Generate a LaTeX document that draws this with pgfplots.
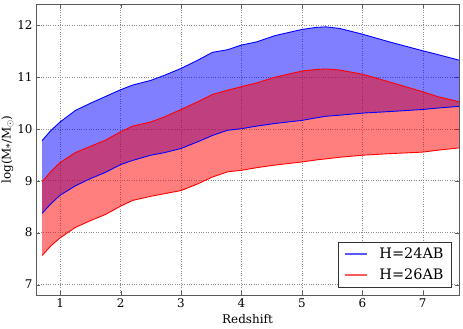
\documentclass[border=0pt]{standalone}
\usepackage{fontspec}
\setmainfont{DejaVu Serif}
\usepackage{pgfplots}
\usepackage{pgfplotstable}
\pgfplotsset{compat=1.18}
\usepgfplotslibrary{fillbetween}
\usetikzlibrary{calc}

% z, upper/lower bounds for H=24AB and H=26AB
\pgfplotstableread{
z    up24  lo24  up26  lo26
0.70 9.77  8.37  8.98  7.56
0.85 9.97  8.56  9.18  7.75
1.00 10.13 8.72  9.35  7.90
1.25 10.35 8.90  9.54  8.10
1.50 10.49 9.04  9.66  8.23
1.75 10.62 9.16  9.78  8.35
2.00 10.75 9.31  9.94  8.51
2.20 10.84 9.39  10.05 8.62
2.50 10.93 9.49  10.13 8.70
2.73 11.03 9.54  10.23 8.75
3.00 11.16 9.62  10.37 8.81
3.28 11.32 9.75  10.52 8.94
3.52 11.47 9.87  10.66 9.07
3.77 11.52 9.97  10.74 9.17
4.00 11.61 10.00 10.81 9.20
4.25 11.67 10.05 10.88 9.25
4.55 11.79 10.10 10.99 9.30
5.00 11.91 10.16 11.11 9.36
5.24 11.95 10.21 11.14 9.40
5.40 11.96 10.24 11.15 9.42
5.62 11.93 10.26 11.13 9.45
6.00 11.82 10.30 11.05 9.49
6.45 11.67 10.33 10.90 9.52
7.00 11.50 10.37 10.71 9.55
7.27 11.42 10.40 10.61 9.59
7.60 11.32 10.43 10.52 9.63
}\masses

\begin{document}
\begin{tikzpicture}
\begin{axis}[name=ax,
  scale only axis, width=423bp, height=291bp,
  xmin=0.6, xmax=7.6, ymin=6.8, ymax=12.4,
  xtick={1,2,3,4,5,6,7}, ytick={7,8,9,10,11,12},
  grid=major, grid style={dotted, black!45},
  axis line style={black!65}, tick style={black!65},
  tick align=inside, major tick length=4bp,
  tick label style={font=\fontsize{12}{14}\selectfont},
  /pgf/number format/assume math mode=true,
  label style={font=\fontsize{12}{14}\selectfont},
  xlabel={Redshift},
  ylabel={log(M{\fontsize{9}{9}\selectfont\raisebox{-0.45ex}{*}}/M{\fontsize{9}{9}\selectfont\raisebox{-0.45ex}{$\odot$}})},
  ylabel style={yshift=-3bp},
  legend style={at={(0.983,0.026)}, anchor=south east, draw=black!80,
    font=\fontsize{14.5}{17}\selectfont, inner xsep=6bp, inner ysep=4bp,
    row sep=5bp},
  legend cell align=left,
  legend image code/.code={\draw[#1] (0bp,0bp) -- (22bp,0bp);},
]
\addplot[name path=A, blue, line width=0.9pt, forget plot] table[x=z, y=up24] {\masses};
\addplot[name path=B, blue, line width=0.9pt, forget plot] table[x=z, y=lo24] {\masses};
\addplot[name path=C, red, line width=0.9pt, forget plot] table[x=z, y=up26] {\masses};
\addplot[name path=D, red, line width=0.9pt, forget plot] table[x=z, y=lo26] {\masses};
\addplot[blue, fill opacity=0.5, draw=none, forget plot] fill between[of=A and B];
\addplot[red, fill opacity=0.5, draw=none, forget plot] fill between[of=C and D];
\addlegendimage{color=blue!65!white, line width=1.5pt}
\addlegendentry{\hspace{10bp}H=24AB}
\addlegendimage{color=red!65!white, line width=1.5pt}
\addlegendentry{\hspace{10bp}H=26AB}
\end{axis}
\pgfresetboundingbox
\path ($(ax.south west)+(-36bp,-33bp)$) rectangle ($(ax.north east)+(4bp,4bp)$);
\end{tikzpicture}
\end{document}
